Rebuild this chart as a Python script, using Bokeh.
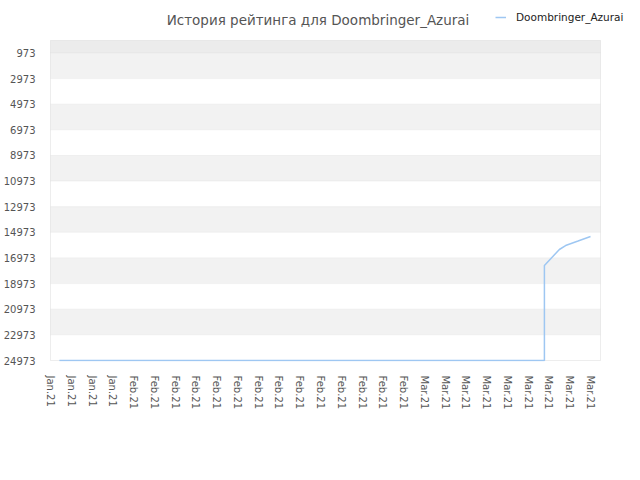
from bokeh.plotting import figure
from bokeh.models import (Range1d, FixedTicker, BoxAnnotation, Legend,
                          LegendItem, Label)
from bokeh.embed import file_html
from bokeh.resources import INLINE

title_text = "История рейтинга для Doombringer_Azurai"
series_name = "Doombringer_Azurai"

x_tick_labels = [
    "Jan.21", "Jan.21", "Jan.21", "Jan.21",
    "Feb.21", "Feb.21", "Feb.21", "Feb.21", "Feb.21", "Feb.21", "Feb.21",
    "Feb.21", "Feb.21", "Feb.21", "Feb.21", "Feb.21", "Feb.21", "Feb.21",
    "Mar.21", "Mar.21", "Mar.21", "Mar.21", "Mar.21", "Mar.21", "Mar.21",
    "Mar.21", "Mar.21",
]
y_ticks = [973, 2973, 4973, 6973, 8973, 10973, 12973, 14973, 16973,
           18973, 20973, 22973, 24973]

# positions along the date axis (in tick units) and rating values
point_pos = [0.43, 23.78, 23.78, 24.5, 24.8, 25.4, 26.0]
point_rating = [24973, 24973, 17558, 16310, 15999, 15650, 15296]

FONT = "DejaVu Sans"

# ---- layout geometry (canvas pixels) ----
FIG_W = 624
FRAME_LEFT = 41
FRAME_W = FIG_W - FRAME_LEFT
FRAME_H = 361
PPX = 20.77                 # pixels per x tick unit
X0 = -1 / PPX               # 1px margin so the outline box is not clipped
X1 = X0 + FRAME_W / PPX
PLOT_TOP = 40               # canvas y of rating 0
PLOT_BOTTOM = 360           # canvas y of the lowest rating
UPP = y_ticks[-1] / (PLOT_BOTTOM - PLOT_TOP)   # rating units per pixel
Y_TOP = -PLOT_TOP * UPP
Y_BOT = (FRAME_H - PLOT_TOP) * UPP


def xd(canvas_x):
    return X0 + (canvas_x - FRAME_LEFT) / PPX


def yd(canvas_y):
    return (canvas_y - PLOT_TOP) * UPP


RIGHT = xd(592)             # right edge of the plotting area

p = figure(output_backend="svg", toolbar_location=None, title=None,
           frame_width=FRAME_W, frame_height=FRAME_H,
           min_border_left=FRAME_LEFT, min_border_right=0,
           min_border_top=0, min_border_bottom=99,
           x_range=Range1d(X0, X1), y_range=Range1d(Y_BOT, Y_TOP),
           background_fill_color="white", border_fill_color="white")

# top sliver band + alternating bands, their edges form the grid lines
p.add_layout(BoxAnnotation(top=0, bottom=y_ticks[0], left=0, right=RIGHT,
                           fill_color="#ececec", fill_alpha=1,
                           line_color="#e0e0e0", line_width=1,
                           level="underlay"))
for i in range(len(y_ticks) - 1):
    p.add_layout(BoxAnnotation(top=y_ticks[i], bottom=y_ticks[i + 1],
                               left=0, right=RIGHT,
                               fill_color="#f2f2f2" if i % 2 == 0 else "white",
                               fill_alpha=1,
                               line_color="#e0e0e0", line_width=1,
                               level="underlay"))
# plot outline
p.add_layout(BoxAnnotation(top=0, bottom=y_ticks[-1], left=0, right=RIGHT,
                           fill_alpha=0, line_color="#d6d6d6", line_width=1,
                           level="underlay"))

r = p.line(point_pos, point_rating, line_color="#9ec7f2", line_width=1.5)

p.add_layout(Label(x=xd(309.5), y=yd(19), text=title_text,
                   text_align="center", text_baseline="alphabetic",
                   text_font=FONT, text_font_size="13.5px",
                   text_color="#555555"))

p.xaxis.ticker = FixedTicker(ticks=list(range(len(x_tick_labels))))
p.xaxis.major_label_overrides = {i: lab for i, lab in enumerate(x_tick_labels)}
p.xaxis.major_label_orientation = "vertical"
p.yaxis.ticker = FixedTicker(ticks=y_ticks)
for ax in (p.xaxis, p.yaxis):
    ax.axis_line_color = None
    ax.major_tick_line_color = None
    ax.minor_tick_line_color = None
    ax.major_label_text_font = FONT
    ax.major_label_text_font_size = "10px"
    ax.major_label_text_color = "#555555"
p.xaxis.major_label_standoff = 8
p.yaxis.major_label_standoff = 8

p.xgrid.grid_line_color = None
p.ygrid.grid_line_color = None
p.outline_line_color = None

legend = Legend(items=[LegendItem(label=series_name, renderers=[r])],
                location=(446, 338), orientation="horizontal",
                glyph_width=11, glyph_height=12, label_height=12,
                label_standoff=10, padding=0, margin=0, spacing=0,
                label_text_font=FONT, label_text_font_size="10.5px",
                label_text_color="#222222",
                background_fill_alpha=0, border_line_color=None)
p.add_layout(legend)

open("out.html", "w").write(file_html(p, INLINE))
